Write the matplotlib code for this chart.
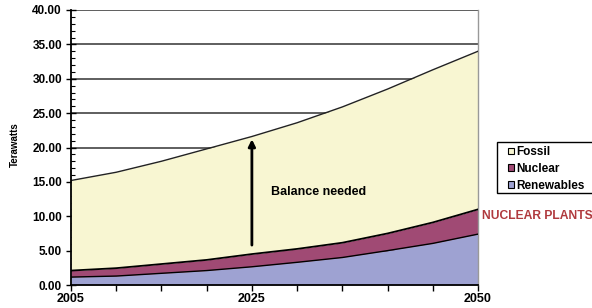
import matplotlib
matplotlib.use("Agg")
import matplotlib.pyplot as plt
from matplotlib.patches import Patch, Rectangle
from matplotlib.ticker import MultipleLocator, FixedLocator

plt.rcParams['font.family'] = ['Liberation Sans', 'DejaVu Sans']
plt.rcParams['font.weight'] = 'bold'

years = [2005, 2010, 2015, 2020, 2025, 2030, 2035, 2040, 2045, 2050]
renewables = [1.15, 1.30, 1.70, 2.10, 2.65, 3.30, 4.00, 5.00, 6.05, 7.40]
nuclear = [0.95, 1.15, 1.35, 1.55, 1.85, 1.95, 2.15, 2.50, 3.05, 3.60]
fossil = [13.10, 13.95, 14.95, 16.15, 17.10, 18.35, 19.75, 21.00, 22.20, 23.00]
xtick_labels = {2005: "2005", 2025: "2025", 2050: "2050"}
series_names = ["Fossil", "Nuclear", "Renewables"]
colors = {"Fossil": "#f8f6d2", "Nuclear": "#a04a74", "Renewables": "#9ea2d2"}

fig = plt.figure(figsize=(5.92, 3.08), dpi=100)
ax = fig.add_axes([71/592, 1-285/308, (478-71)/592, (285-10)/308])

r_top = renewables
n_top = [a + b for a, b in zip(renewables, nuclear)]
f_top = [a + b for a, b in zip(n_top, fossil)]

ax.fill_between(years, 0, r_top, color=colors["Renewables"], lw=0, zorder=2)
ax.fill_between(years, r_top, n_top, color=colors["Nuclear"], lw=0, zorder=2)
ax.fill_between(years, n_top, f_top, color=colors["Fossil"], lw=0, zorder=2)
ax.plot(years, r_top, color="black", lw=1.0, zorder=3)
ax.plot(years, n_top, color="black", lw=1.3, zorder=3)
ax.plot(years, f_top, color="#222222", lw=1.0, zorder=3)

ax.set_xlim(2005, 2050)
ax.set_ylim(0, 40)
ax.yaxis.set_major_locator(MultipleLocator(5))
ax.yaxis.set_minor_locator(MultipleLocator(1))
ax.yaxis.set_major_formatter(matplotlib.ticker.FormatStrFormatter("%.2f"))
ax.xaxis.set_major_locator(FixedLocator(years))
ax.set_xticklabels([xtick_labels.get(y, "") for y in years])
ax.grid(axis='y', which='major', color='#333333', lw=1.1, zorder=1)
ax.set_axisbelow(True)

ax.spines["top"].set_visible(False)
ax.spines["right"].set_color("#999999")
ax.spines["right"].set_linewidth(1.0)
ax.spines["left"].set_color("black")
ax.spines["left"].set_linewidth(1.3)
ax.spines["bottom"].set_color("black")
ax.spines["bottom"].set_linewidth(1.3)
ax.spines["left"].set_zorder(4)
ax.spines["bottom"].set_zorder(4)

ax.tick_params(axis='y', which='major', direction='inout', length=7, width=1.0, labelsize=8.5, pad=3)
ax.tick_params(axis='y', which='minor', direction='in', length=3, width=0.8)
ax.tick_params(axis='x', which='major', direction='out', length=4, width=1.0, labelsize=9, pad=2)
for lab in ax.get_yticklabels() + ax.get_xticklabels():
    lab.set_fontweight('bold')

ax.set_ylabel("Terawatts", fontsize=7, fontweight='bold')
ax.yaxis.set_label_coords((20 - 71) / 407, 0.51)

# arrow and annotation
ax.annotate("", xy=(2025, 21.6), xytext=(2025, 5.4),
            arrowprops=dict(arrowstyle="-|>", color="black", lw=2.0, mutation_scale=10),
            zorder=5)
ax.text(2027.1, 13.5, "Balance needed", fontsize=9, fontweight='bold', va='center', ha='left', zorder=5)

# legend
fig.patches.append(Rectangle((497/592, 1-193/308), 110/592, 51/308, transform=fig.transFigure,
                             facecolor='white', edgecolor='black', lw=1.0, clip_on=False))
handles = [Patch(facecolor=colors[n], edgecolor='black', lw=0.8) for n in series_names]
leg = fig.legend(handles, series_names, loc='upper left', bbox_to_anchor=(500/592, 1-138/308),
                 frameon=False, fontsize=8.5, handlelength=0.5, handleheight=0.5,
                 handletextpad=0.15, labelspacing=0.4, borderpad=0.2)
for t in leg.get_texts():
    t.set_fontweight('bold')

fig.text(482/592, 1-216/308, "NUCLEAR PLANTS", color="#b03a3e", fontsize=8.7, fontweight='bold',
         va='center', ha='left')

fig.savefig("out.png", dpi=100)
